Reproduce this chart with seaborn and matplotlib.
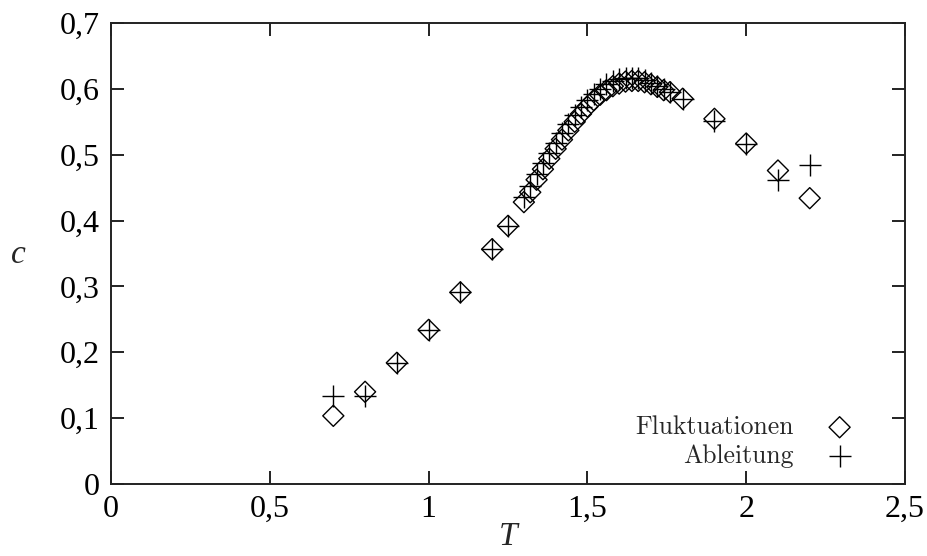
import matplotlib
matplotlib.use("Agg")
import matplotlib.pyplot as plt
import seaborn as sns
import pandas as pd

# ---- data ----
T_fluct = [0.7, 0.8, 0.9, 1.0, 1.1, 1.2, 1.25,
           1.30, 1.32, 1.34, 1.36, 1.38, 1.40, 1.42, 1.44, 1.46, 1.48,
           1.50, 1.52, 1.54, 1.56, 1.58, 1.60, 1.62, 1.64, 1.66, 1.68,
           1.70, 1.72, 1.74, 1.76, 1.8, 1.9, 2.0, 2.1, 2.2]
c_fluct = [0.1035, 0.140, 0.184, 0.234, 0.291, 0.3565, 0.392,
           0.428, 0.443, 0.462, 0.478, 0.494, 0.509, 0.523, 0.537, 0.550, 0.562,
           0.573, 0.583, 0.591, 0.598, 0.604, 0.608, 0.611, 0.612, 0.612, 0.610,
           0.607, 0.603, 0.598, 0.595, 0.585, 0.5545, 0.517, 0.476, 0.434]

T_abl = [0.7, 0.8, 0.9, 1.0, 1.1, 1.2, 1.25,
         1.30, 1.32, 1.34, 1.36, 1.38, 1.40, 1.42, 1.44, 1.46, 1.48,
         1.50, 1.52, 1.54, 1.56, 1.58, 1.60, 1.62, 1.64, 1.66, 1.68,
         1.70, 1.72, 1.74, 1.76, 1.8, 1.9, 2.0, 2.1, 2.2]
c_abl = [0.134, 0.134, 0.184, 0.234, 0.291, 0.357, 0.392,
         0.436, 0.452, 0.470, 0.487, 0.503, 0.518, 0.533, 0.547, 0.560, 0.572,
         0.583, 0.592, 0.600, 0.607, 0.612, 0.615, 0.617, 0.617, 0.616, 0.613,
         0.609, 0.605, 0.600, 0.595, 0.584, 0.551, 0.516, 0.462, 0.484]

x_ticks = [0, 0.5, 1, 1.5, 2, 2.5]
x_tick_labels = ["0", "0,5", "1", "1,5", "2", "2,5"]
y_ticks = [0, 0.1, 0.2, 0.3, 0.4, 0.5, 0.6, 0.7]
y_tick_labels = ["0", "0,1", "0,2", "0,3", "0,4", "0,5", "0,6", "0,7"]

df_f = pd.DataFrame({"T": T_fluct, "c": c_fluct})
df_a = pd.DataFrame({"T": T_abl, "c": c_abl})

sns.set_style("ticks")
plt.rcParams["font.family"] = ["Liberation Serif", "DejaVu Serif"]

fig = plt.figure(figsize=(9.28, 5.56), dpi=100)
ax = fig.add_axes([111 / 928, 1 - 484 / 556, 794 / 928, 461 / 556])

sns.scatterplot(data=df_f, x="T", y="c", marker="D", s=115,
                facecolor="none", edgecolor="black", linewidth=1.0,
                label="Fluktuationen", ax=ax, zorder=3)
ax.collections[-1].set_facecolor("none")
sns.scatterplot(data=df_a, x="T", y="c", marker="+", s=230,
                color="black", linewidth=1.0, label="Ableitung", ax=ax, zorder=3)

ax.set_xlim(0, 2.5)
ax.set_ylim(0, 0.7)
ax.set_xticks(x_ticks)
ax.set_xticklabels(x_tick_labels)
ax.set_yticks(y_ticks)
ax.set_yticklabels(y_tick_labels)

for s in ax.spines.values():
    s.set_visible(True)
    s.set_linewidth(1.4)
    s.set_color("#222222")

ax.tick_params(axis="both", direction="in", length=9.5, width=1.4,
               labelsize=23, colors="#222222", labelcolor="black",
               top=True, right=True)
ax.tick_params(axis="x", pad=8)
ax.tick_params(axis="y", pad=8)

ax.set_xlabel("T", fontsize=24, fontstyle="italic", labelpad=0)
ax.set_ylabel("c", fontsize=24, fontstyle="italic", rotation=0, labelpad=0)
ax.yaxis.set_label_coords(-0.117, 0.465)
ax.xaxis.set_label_coords(0.5, -0.082)

leg = ax.legend(loc="lower right", bbox_to_anchor=(0.95, 0.035), frameon=False,
                markerfirst=False, prop={"family": "cmr10", "size": 18.5},
                handletextpad=0.8, labelspacing=0.2, borderpad=0,
                borderaxespad=0)

fig.savefig("out.png", dpi=100)
